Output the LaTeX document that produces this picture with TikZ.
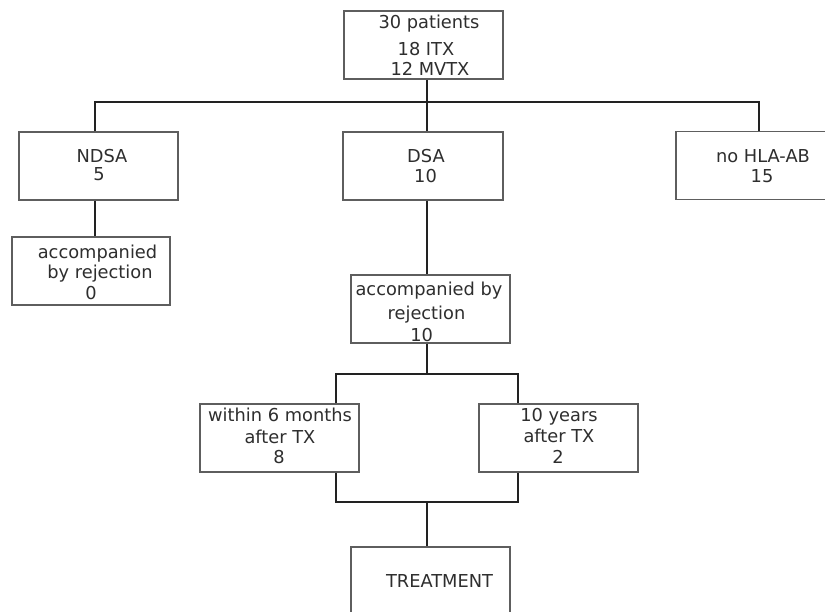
\documentclass[tikz,border=0pt]{standalone}
\usepackage{fontspec}
\setmainfont{DejaVu Sans}
\definecolor{boxgray}{HTML}{5E5E5E}
\definecolor{linegray}{HTML}{222222}
\definecolor{textgray}{HTML}{2E2E2E}
\begin{document}
\begin{tikzpicture}[x=1pt,y=-1pt,
  box/.style={draw=boxgray, line width=1.3pt, rectangle, inner sep=0pt, minimum width=159pt, minimum height=68pt},
  conn/.style={draw=linegray, line width=2.1pt},
  txt/.style={anchor=base, inner sep=0pt, text=textgray, font=\fontsize{17.8}{20}\selectfont}]
\clip (0,0) rectangle (825,612);
\fill[white] (0,0) rectangle (825,612);

% boxes
\node[box] (top)   at (423.5,45) {};
\node[box] (ndsa)  at (98.5,166) {};
\node[box, minimum width=160pt] (dsa) at (423,166) {};
\node[box] (hla)   at (755.5,165.5) {};
\node[box, minimum width=158pt] (acc1) at (91,271) {};
\node[box] (acc2)  at (430.5,309) {};
\node[box] (w6)    at (279.5,438) {};
\node[box] (y10)   at (558.5,438) {};
\node[box] (treat) at (430.5,581) {};

% junction coordinates
\coordinate (jL) at (95,102);
\coordinate (jC) at (427,102);
\coordinate (jR) at (759,102);
\coordinate (kC) at (427,374);
\coordinate (kL) at (336,374);
\coordinate (kR) at (518,374);
\coordinate (mC) at (427,502);
\coordinate (mL) at (336,502);
\coordinate (mR) at (518,502);

% connectors
\draw[conn] (top.south -| jC) -- (jC);
\draw[conn] (ndsa.north -| jL) -- (jL) -- (jR) -- (hla.north -| jR);
\draw[conn] (jC) -- (dsa.north -| jC);
\draw[conn] (ndsa.south -| jL) -- (acc1.north -| jL);
\draw[conn] (dsa.south -| jC) -- (acc2.north -| jC);
\draw[conn] (acc2.south -| kC) -- (kC);
\draw[conn] (w6.north -| kL) -- (kL) -- (kR) -- (y10.north -| kR);
\draw[conn] (w6.south -| mL) -- (mL) -- (mR) -- (y10.south -| mR);
\draw[conn] (mC) -- (treat.north -| mC);

% texts
\node[txt] (t1a) at (429,29) {30 patients};
\node[txt] (t1b) at (426,56) {18 ITX};
\node[txt] (t1c) at (430,76) {12 MVTX};

\node[txt] (t2a) at (102,163) {NDSA};
\node[txt] (t2b) at (99,181) {5};

\node[txt] (t3a) at (426,163) {DSA};
\node[txt] (t3b) at (425.5,183) {10};

\node[txt] (t4a) at (763,163) {no HLA-AB};
\node[txt] (t4b) at (762,183) {15};

\node[txt] (t5a) at (97.5,259) {accompanied};
\node[txt] (t5b) at (100,279) {by rejection};
\node[txt] (t5c) at (91,300) {0};

\node[txt] (t6a) at (429,296) {accompanied by};
\node[txt] (t6b) at (426.5,320) {rejection};
\node[txt] (t6c) at (421.7,342) {10};

\node[txt] (t7a) at (280,421) {within 6 months};
\node[txt] (t7b) at (280,443) {after TX};
\node[txt] (t7c) at (279,463) {8};

\node[txt] (t8a) at (559,421) {10 years};
\node[txt] (t8b) at (559,442) {after TX};
\node[txt] (t8c) at (558,463) {2};

\node[txt] (t9) at (439.5,587) {TREATMENT};
\end{tikzpicture}
\end{document}
